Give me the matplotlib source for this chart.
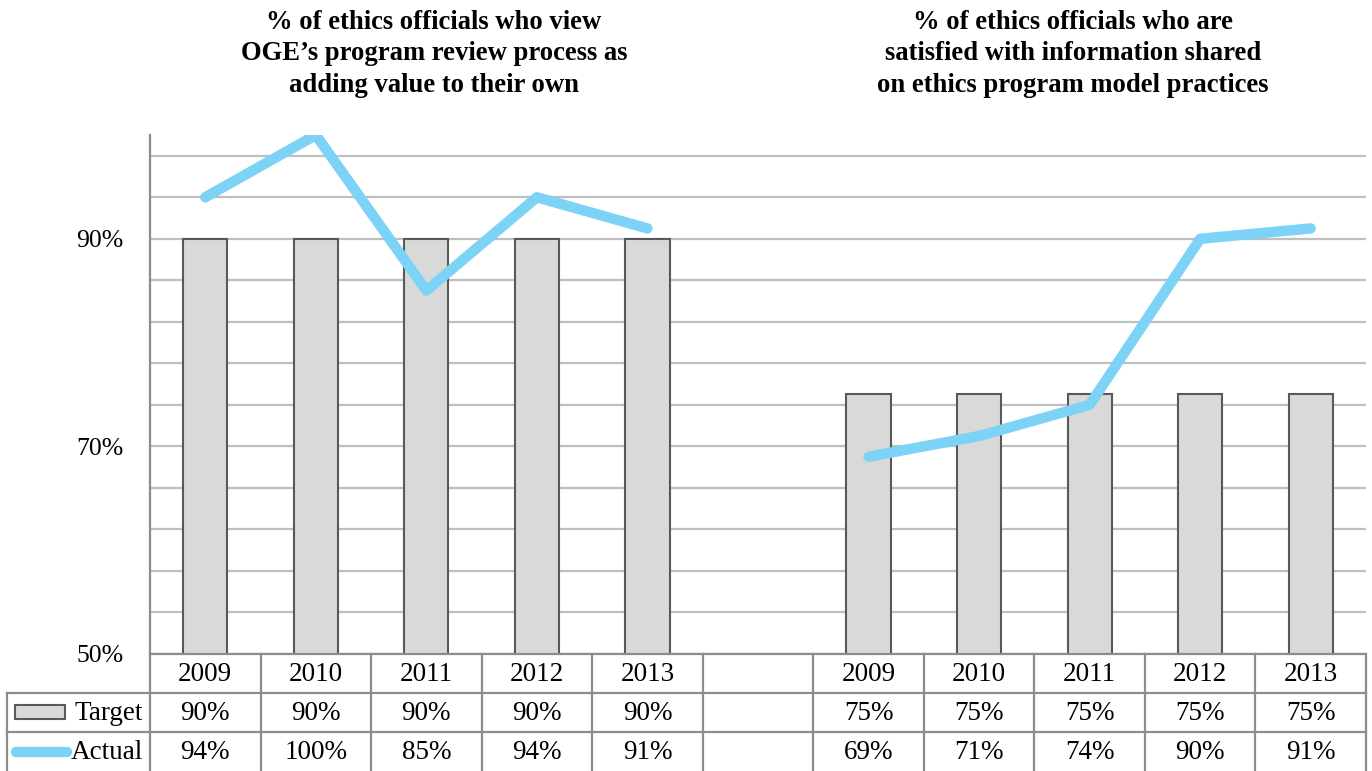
import matplotlib
matplotlib.use("Agg")
import matplotlib.pyplot as plt
from matplotlib.patches import Rectangle
import numpy as np

plt.rcParams["font.family"] = ["Liberation Serif", "DejaVu Serif"]

# ---- data ----
years = ["2009", "2010", "2011", "2012", "2013"]
target_review = [90, 90, 90, 90, 90]
actual_review = [94, 100, 85, 94, 91]
target_practices = [75, 75, 75, 75, 75]
actual_practices = [69, 71, 74, 90, 91]

title_review = "% of ethics officials who view\nOGE\u2019s program review process as\nadding value to their own"
title_practices = "% of ethics officials who are\nsatisfied with information shared\non ethics program model practices"

# ---- palette ----
BAR = "#D9D9D9"
BAR_EDGE = "#595959"
LINE = "#7DD3F5"
GRID = "#BFBFBF"
BORDER = "#8C8C8C"
TXT = "#000000"
FS = 19.5
FS_TICK = 18.5
FS_TITLE = 19.2

W, H = 1372, 771
fig = plt.figure(figsize=(W / 100, H / 100), dpi=100)
fig.patch.set_facecolor("white")

# combined category axis: group 1, blank gap, group 2
cats = years + [""] + years
target = target_review + [np.nan] + target_practices
actual = actual_review + [np.nan] + actual_practices
x = np.arange(len(cats))

ax_l, ax_r, ax_t, ax_b = 150, 1366, 135, 654
ax = fig.add_axes([ax_l / W, 1 - ax_b / H, (ax_r - ax_l) / W, (ax_b - ax_t) / H])

bx = [xi for xi, t in zip(x, target) if not np.isnan(t)]
bh = [t for t in target if not np.isnan(t)]
ax.bar(bx, bh, width=0.4, color=BAR, edgecolor=BAR_EDGE, linewidth=1.5, zorder=2)
ax.plot(x, actual, color=LINE, linewidth=7.5, solid_capstyle="round",
        solid_joinstyle="round", zorder=3)

ax.set_xlim(-0.5, len(cats) - 0.5)
ax.set_ylim(50, 100)
ax.set_yticks([50, 70, 90])
ax.set_yticklabels(["50%", "70%", "90%"], fontsize=FS_TICK, color=TXT)
ax.set_yticks(np.arange(50, 100, 4), minor=True)
ax.grid(axis="y", which="both", color=GRID, linewidth=1.6, zorder=0)
ax.set_axisbelow(True)
ax.tick_params(axis="y", which="both", length=0, pad=19)
ax.set_xticks([])
for sp in ["top", "right"]:
    ax.spines[sp].set_visible(False)
ax.spines["left"].set_color(BORDER)
ax.spines["left"].set_linewidth(1.6)
ax.spines["bottom"].set_color(BORDER)
ax.spines["bottom"].set_linewidth(1.6)

# ---- data table ----
slot = (ax_r - ax_l) / len(cats)
tl = 7
x0 = -0.5 - (ax_l - tl) / slot
tax = fig.add_axes([tl / W, 0, (ax_r - tl) / W, (H - ax_b) / H])
tax.set_xlim(x0, len(cats) - 0.5)
tax.set_ylim(3, 0)
tax.axis("off")

for k in range(len(cats) + 1):
    tax.plot([k - 0.5, k - 0.5], [0, 3], color=BORDER, lw=1.6, clip_on=False)
for r in [1, 2]:
    tax.plot([x0, len(cats) - 0.5], [r, r], color=BORDER, lw=1.6, clip_on=False)
tax.plot([x0, x0], [1, 3], color=BORDER, lw=1.6, clip_on=False)

for xi, c in zip(x, cats):
    tax.text(xi, 0.52, c, ha="center", va="center", fontsize=FS, color=TXT)
for xi, t in zip(x, target):
    if not np.isnan(t):
        tax.text(xi, 1.52, f"{t:.0f}%", ha="center", va="center", fontsize=FS, color=TXT)
for xi, a in zip(x, actual):
    if not np.isnan(a):
        tax.text(xi, 2.52, f"{a:.0f}%", ha="center", va="center", fontsize=FS, color=TXT)

# legend keys
kx0 = x0 + 8 / slot
kx1 = x0 + 58 / slot
tax.add_patch(Rectangle((kx0, 1.3), kx1 - kx0, 0.36, facecolor=BAR,
                        edgecolor=BAR_EDGE, linewidth=1.5))
tax.plot([x0 + 9 / slot, x0 + 60 / slot], [2.5, 2.5], color=LINE, lw=7.5,
         solid_capstyle="round")
tax.text(-0.5 - 7 / slot, 1.52, "Target", ha="right", va="center", fontsize=FS, color=TXT)
tax.text(-0.5 - 7 / slot, 2.52, "Actual", ha="right", va="center", fontsize=FS, color=TXT)

# ---- titles ----
fig.text(434 / W, 1 - 54 / H, title_review, ha="center", va="center",
         fontsize=FS_TITLE, fontweight="bold", linespacing=1.32, color=TXT)
fig.text(1073 / W, 1 - 54 / H, title_practices, ha="center", va="center",
         fontsize=FS_TITLE, fontweight="bold", linespacing=1.32, color=TXT)

fig.savefig("out.png", dpi=100, facecolor="white")
